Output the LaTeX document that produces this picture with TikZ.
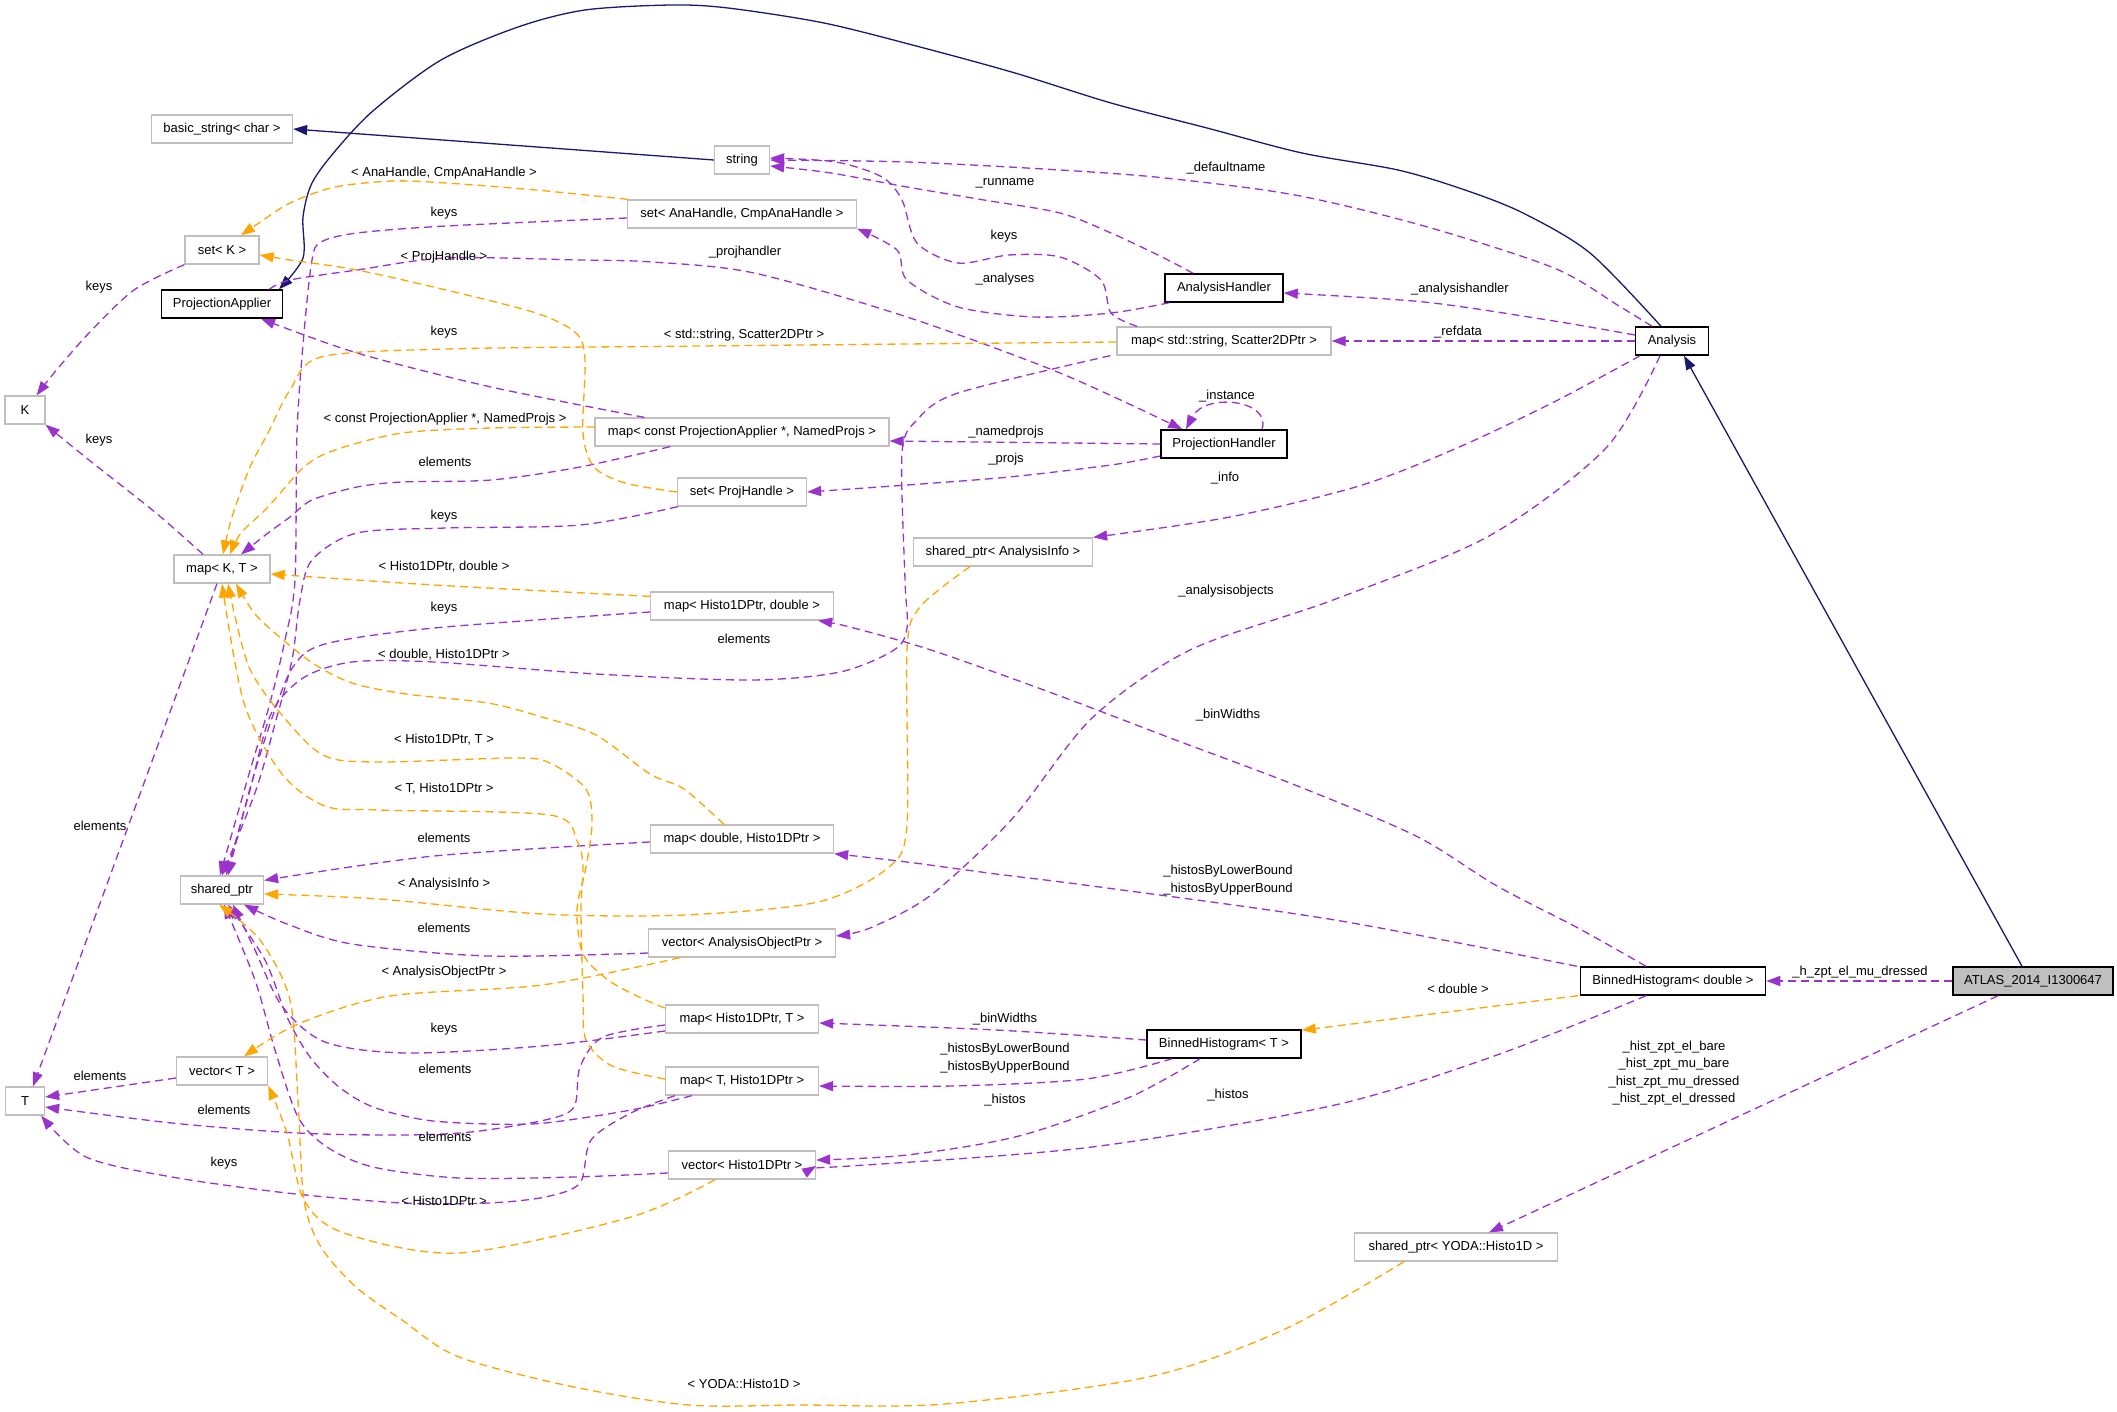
\documentclass[tikz,border=0pt]{standalone}
\usepackage{fontspec}
\setmainfont{Liberation Sans}
\usetikzlibrary{arrows.meta}
\definecolor{edgeuse}{HTML}{9A32CD}
\definecolor{edgetpl}{HTML}{FFA500}
\definecolor{edgeinh}{HTML}{191970}
\definecolor{boxgray}{HTML}{BFBFBF}
\tikzset{
	tplbox/.style={draw=boxgray, line width=1.3pt, fill=white, minimum height=28pt, inner sep=0pt, font=\fontsize{13}{15}\selectfont},
	clsbox/.style={tplbox, draw=black, line width=1.5pt},
	lbl/.style={inner sep=0pt, font=\fontsize{13}{17.5}\selectfont, align=center},
	usage/.style={edgeuse, line width=1.3pt, dash pattern=on 8pt off 5pt, -{Triangle[length=14pt,width=10pt]}},
	tpl/.style={usage, edgetpl},
	inherit/.style={edgeinh, line width=1.3pt, -{Triangle[length=14pt,width=10pt]}}
}

\begin{document}
\begin{tikzpicture}[x=1pt, y=-1pt]
			%%%%% START %%%%%
			\fill[white] (0, 0) rectangle (2117, 1411);
			\useasboundingbox (0, 0) rectangle (2117, 1411);
			
			% boxes
			\node[tplbox, minimum width=141pt] (basicstr) at (222, 129) {basic\_string< char >};
			\node[tplbox, minimum width=55pt] (strg) at (742, 160) {string};
			\node[tplbox, minimum width=229pt] (setana) at (742, 214) {set< AnaHandle, CmpAnaHandle >};
			\node[tplbox, minimum width=74pt] (setk) at (222, 250) {set< K >};
			\node[clsbox, minimum width=121pt] (projapp) at (222, 304) {ProjectionApplier};
			\node[tplbox, minimum width=40pt] (typek) at (25, 410) {K};
			\node[tplbox, minimum width=96pt] (mapkt) at (222, 569) {map< K, T >};
			\node[clsbox, minimum width=118pt] (anahand) at (1224, 288) {AnalysisHandler};
			\node[tplbox, minimum width=214pt] (mapscat) at (1224, 341) {map< std::string, Scatter2DPtr >};
			\node[clsbox, minimum width=73pt] (analysis) at (1672, 341) {Analysis};
			\node[tplbox, minimum width=294pt] (mapproj) at (742, 432) {map< const ProjectionApplier *, NamedProjs >};
			\node[clsbox, minimum width=126pt] (projhand) at (1224, 444) {ProjectionHandler};
			\node[tplbox, minimum width=129pt] (setproj) at (742, 492) {set< ProjHandle >};
			\node[tplbox, minimum width=179pt] (sptrinfo) at (1003, 552) {shared\_ptr< AnalysisInfo >};
			\node[tplbox, minimum width=183pt] (maphd) at (742, 606) {map< Histo1DPtr, double >};
			\node[tplbox, minimum width=183pt] (mapdh) at (742, 839) {map< double, Histo1DPtr >};
			\node[tplbox, minimum width=83pt] (sptr) at (222, 890) {shared\_ptr};
			\node[tplbox, minimum width=187pt] (vecaop) at (742, 943) {vector< AnalysisObjectPtr >};
			\node[clsbox, minimum width=185pt] (bhdouble) at (1673, 981) {BinnedHistogram< double >};
			\node[clsbox, fill=boxgray, minimum width=160pt] (atlas) at (2033, 981) {ATLAS\_2014\_I1300647};
			\node[tplbox, minimum width=153pt] (mapht) at (742, 1019) {map< Histo1DPtr, T >};
			\node[clsbox, minimum width=154pt] (bht) at (1224, 1044) {BinnedHistogram< T >};
			\node[tplbox, minimum width=91pt] (vect) at (222, 1071) {vector< T >};
			\node[tplbox, minimum width=39pt] (typet) at (25, 1101) {T};
			\node[tplbox, minimum width=153pt] (mapth) at (742, 1081) {map< T, Histo1DPtr >};
			\node[tplbox, minimum width=147pt] (vech) at (742, 1165) {vector< Histo1DPtr >};
			\node[tplbox, minimum width=203pt] (sptryoda) at (1456, 1247) {shared\_ptr< YODA::Histo1D >};
			
			% inheritance
			\draw[inherit] (strg.west) -- (basicstr.east);
			\draw[inherit] plot[smooth] coordinates {([xshift=-11pt]analysis.north) (1590, 253) (1523, 213) (1465, 190) (1398, 170) (1302, 153) (1207, 128) (1111, 103) (1015, 73) (920, 47) (824, 23) (728, 8) (671, 5) (585, 10) (518, 27) (441, 60) (374, 110) (336, 150) (312, 183) (303, 217) (303, 258) ([xshift=57pt]projapp.north)};
			\draw[inherit] ([xshift=-11pt]atlas.north) -- ([xshift=12pt]analysis.south);
			
			% members of Analysis and AnalysisHandler
			\draw[usage] plot[smooth] coordinates {([xshift=-20pt]analysis.north) (1619, 306) (1554, 268) (1424, 226) (1295, 195) (1165, 178) (1060, 170) (907, 162) (strg.east)};
			\node[lbl] (ldefname) at (1226, 168) {\_defaultname};
			\draw[usage] plot[smooth] coordinates {([xshift=-31pt]anahand.north) (1162, 257) (1111, 233) (1060, 213) (984, 200) (907, 187) (831, 173) ([yshift=-6pt]strg.east)};
			\node[lbl] (lrunname) at (1005, 183) {\_runname};
			\draw[usage] plot[smooth] coordinates {([xshift=-87pt]mapscat.north) (1111, 313) (1101, 280) (1060, 257) (1009, 255) (958, 263) (917, 243) (902, 200) (882, 177) (836, 162) ([yshift=2pt]strg.east)};
			\node[lbl] (lkeysstr) at (1004, 236) {keys};
			\draw[usage] plot[smooth] coordinates {([xshift=5pt]anahand.south west) (1111, 313) (1035, 317) (958, 307) (907, 280) (897, 250) (setana.south east)};
			\node[lbl] (lanalyses) at (1005, 279) {\_analyses};
			\draw[usage] plot[smooth] coordinates {([yshift=6pt]analysis.west) (1554, 321) (1424, 302) ([yshift=-5pt]anahand.east)};
			\node[lbl] (lanahand) at (1460, 289) {\_analysishandler};
			\draw[usage] (analysis.west) -- (mapscat.east);
			\node[lbl] (lrefdata) at (1458, 332) {\_refdata};
			\draw[usage] plot[smooth] coordinates {([xshift=-32pt]analysis.south) (1554, 402) (1457, 448) (1359, 486) (1230, 517) (sptrinfo.north east)};
			\node[lbl] (linfo) at (1225, 478) {\_info};
			\draw[usage] plot[smooth] coordinates {([xshift=-12pt]analysis.south) (1606, 448) (1489, 536) (1333, 600) (1190, 650) (1092, 718) (1012, 819) (931, 895) (870, 928) ([yshift=7pt]vecaop.east)};
			\node[lbl] (lanaobj) at (1226, 591) {\_analysisobjects};
			
			% ProjectionHandler
			\draw[usage] plot[smooth] coordinates {([xshift=-14pt]projapp.north east) (290, 280) (357, 270) (446, 258) (580, 260) (652, 262) (754, 273) (907, 317) (1060, 373) ([xshift=22pt]projhand.north west)};
			\node[lbl] (lprojhand) at (745, 252) {\_projhandler};
			\draw[usage] ([xshift=38pt]projhand.north) .. controls (1272, 400) and (1205, 392) .. ([xshift=-38pt]projhand.north);
			\node[lbl] (linstance) at (1227, 396) {\_instance};
			\draw[usage] (projhand.west) -- ([yshift=-9pt]mapproj.east);
			\node[lbl] (lnamedprojs) at (1006, 432) {\_namedprojs};
			\draw[usage] plot[smooth] coordinates {([yshift=-12pt]projhand.west) (1111, 465) (1009, 477) (907, 485) (setproj.east)};
			\node[lbl] (lprojs) at (1006, 459) {\_projs};
			\draw[usage] plot[smooth] coordinates {([xshift=50pt]mapproj.north west) (491, 387) (357, 353) ([xshift=39pt]projapp.south)};
			\node[lbl] (lkeyspa) at (444, 332) {keys};
			\draw[usage] plot[smooth] coordinates {([xshift=-72pt]mapproj.south) (580, 467) (491, 480) (402, 482) (357, 487) (312, 500) (290, 517) (268, 533) ([xshift=19pt]mapkt.north)};
			\node[lbl] (lelemproj) at (445, 462) {elements};
			
			% keys and elements on the left
			\draw[usage] plot[smooth] coordinates {(setk.south west) (134, 290) (89, 333) (54, 373) ([xshift=-9pt]typek.north east)};
			\node[lbl] (lkeysk1) at (99, 287) {keys};
			\draw[usage] plot[smooth] coordinates {([yshift=-4pt]setana.west) (446, 226) (357, 233) (321, 242) (312, 260) (304, 333) (297, 433) (295, 580) (285, 640) (270, 703) (249, 774) ([xshift=-2pt]sptr.north)};
			\node[lbl] (lkeysana) at (444, 213) {keys};
			\draw[usage] plot[smooth] coordinates {([xshift=1pt]setproj.south west) (580, 525) (446, 528) (357, 533) (312, 560) (300, 600) (292, 660) (276, 720) (256, 790) (sptr.north)};
			\node[lbl] (lkeysproj) at (444, 516) {keys};
			\draw[usage] plot[smooth] coordinates {([xshift=-6pt]mapscat.south west) (958, 393) (917, 420) (902, 453) (905, 580) (907, 628) (894, 650) (840, 672) (751, 680) (596, 674) (434, 662) (352, 662) (303, 678) (271, 714) (250, 790) ([xshift=4pt]sptr.north)};
			\node[lbl] (lelemscat) at (744, 639) {elements};
			\draw[usage] plot[smooth] coordinates {([yshift=-6pt]maphd.west) (434, 628) (325, 644) (293, 667) (271, 721) (249, 792) ([xshift=6pt]sptr.north)};
			\node[lbl] (lkeyshd) at (444, 608) {keys};
			\draw[usage] plot[smooth] coordinates {([yshift=-3pt]mapdh.west) (434, 856) ([yshift=-5pt]sptr.north east)};
			\node[lbl] (lelemdh) at (444, 838) {elements};
			\draw[usage] plot[smooth] coordinates {([yshift=-10pt]vecaop.west) (488, 956) (352, 944) (287, 924) ([xshift=22pt]sptr.south)};
			\node[lbl] (lelemaop) at (444, 928) {elements};
			\draw[usage] plot[smooth] coordinates {([xshift=-19pt]mapkt.north) (156, 513) (89, 460) (typek.south east)};
			\node[lbl] (lkeysk2) at (99, 440) {keys};
			\draw[usage] ([xshift=-5pt]mapkt.south) -- ([xshift=8pt]typet.north);
			\node[lbl] (lelemkt) at (100, 826) {elements};
			\draw[usage] ([yshift=-7pt]vect.west) -- ([yshift=4pt]typet.east);
			\node[lbl] (lelemvt) at (100, 1076) {elements};
			\draw[usage] plot[smooth] coordinates {([yshift=-6pt]mapht.west) (603, 1037) (580, 1067) (574, 1107) (545, 1120) (471, 1132) (402, 1135) (298, 1133) (172, 1123) ([yshift=-6pt]typet.east)};
			\node[lbl] (lelemht) at (224, 1110) {elements};
			\draw[usage] plot[smooth] coordinates {([xshift=10pt]mapth.south west) (631, 1113) (591, 1140) (580, 1183) (545, 1197) (488, 1203) (402, 1203) (287, 1193) (172, 1177) (86, 1157) ([xshift=-4pt]typet.south east)};
			\node[lbl] (lkeysth) at (224, 1163) {keys};
			\draw[usage] plot[smooth] coordinates {([yshift=-12pt]mapht.west) (542, 1046) (406, 1053) (325, 1042) (282, 1006) (255, 950) ([xshift=11pt]sptr.south)};
			\node[lbl] (lkeysht) at (444, 1029) {keys};
			\draw[usage] plot[smooth] coordinates {([xshift=27pt]mapth.south west) (631, 1110) (545, 1123) (488, 1124) (425, 1120) (373, 1107) (339, 1087) (310, 1057) (287, 1017) (265, 960) ([xshift=6pt]sptr.south)};
			\node[lbl] (lelemth) at (445, 1069) {elements};
			\draw[usage] plot[smooth] coordinates {([yshift=-8pt]vech.west) (574, 1177) (459, 1178) (373, 1167) (327, 1147) (298, 1117) (275, 1050) (255, 980) ([xshift=2pt]sptr.south)};
			\node[lbl] (lelemvh) at (445, 1137) {elements};
			
			% binned histograms
			\draw[usage] (atlas.west) -- (bhdouble.east);
			\node[lbl] (lhzpt) at (1860, 972) {\_h\_zpt\_el\_mu\_dressed};
			\draw[usage] ([xshift=-35pt]atlas.south) -- ([xshift=33pt]sptryoda.north);
			\node[lbl] (lhist) at (1674, 1073) {\_hist\_zpt\_el\_bare\\\_hist\_zpt\_mu\_bare\\\_hist\_zpt\_mu\_dressed\\\_hist\_zpt\_el\_dressed};
			\draw[usage] plot[smooth] coordinates {([xshift=-27pt]bhdouble.north) (1578, 928) (1497, 886) (1416, 836) (1295, 785) (1173, 739) (1052, 693) (931, 650) (850, 627) ([xshift=-16pt]maphd.south east)};
			\node[lbl] (lbinw1) at (1228, 715) {\_binWidths};
			\draw[usage] plot[smooth] coordinates {([xshift=-3pt]bhdouble.north west) (1335, 920) (1092, 886) (996, 874) (907, 862) (mapdh.south east)};
			\node[lbl] (lhistby1) at (1228, 880) {\_histosByLowerBound\\\_histosByUpperBound};
			\draw[usage] plot[smooth] coordinates {([xshift=-27pt]bhdouble.south) (1497, 1055) (1335, 1105) (1092, 1147) (850, 1166) ([yshift=-1pt]vech.east)};
			\node[lbl] (lhistos1) at (1228, 1095) {\_histos};
			\draw[tpl] ([xshift=-2pt]bhdouble.south west) -- ([yshift=-1pt]bht.north east);
			\node[lbl] (ldouble) at (1458, 989) {< double >};
			\draw[usage] plot[smooth] coordinates {([yshift=4pt]bht.west) (996, 1030) ([yshift=-4pt]mapht.east)};
			\node[lbl] (lbinw2) at (1005, 1019) {\_binWidths};
			\draw[usage] plot[smooth] coordinates {([xshift=26pt]bht.south west) (1086, 1079) (952, 1086) ([yshift=-5pt]mapth.east)};
			\node[lbl] (lhistby2) at (1005, 1058) {\_histosByLowerBound\\\_histosByUpperBound};
			\draw[usage] plot[smooth] coordinates {([xshift=-24pt]bht.south) (1130, 1097) (1019, 1136) (907, 1155) ([yshift=5pt]vech.east)};
			\node[lbl] (lhistos2) at (1005, 1100) {\_histos};
			
			% template instances
			\draw[tpl] plot[smooth] coordinates {([xshift=1pt]setana.north west) (536, 190) (446, 183) (393, 181) (335, 187) (290, 203) (259, 223) ([xshift=19pt]setk.north)};
			\node[lbl] (lanahandle) at (444, 173) {< AnaHandle, CmpAnaHandle >};
			\draw[tpl] plot[smooth] coordinates {(setproj.west) (625, 483) (594, 467) (583, 433) (585, 360) (576, 333) (536, 313) (446, 290) (357, 270) (290, 260) ([yshift=-5pt]setk.east)};
			\node[lbl] (lprojhandle) at (444, 257) {< ProjHandle >};
			\draw[tpl] plot[smooth] coordinates {([yshift=-1pt]mapscat.west) (700, 346) (446, 349) (321, 357) (290, 390) (268, 433) (250, 467) (232, 517) ([xshift=1pt]mapkt.north)};
			\node[lbl] (lstdstr) at (744, 335) {< std::string, Scatter2DPtr >};
			\draw[tpl] plot[smooth] coordinates {([yshift=5pt]mapproj.west) (491, 428) (402, 433) (335, 450) (304, 467) (268, 507) (241, 533) ([xshift=8pt]mapkt.north)};
			\node[lbl] (lconstpa) at (445, 419) {< const ProjectionApplier *, NamedProjs >};
			\draw[tpl] plot[smooth] coordinates {([yshift=-5pt]maphd.north west) (434, 585) ([yshift=-5pt]mapkt.east)};
			\node[lbl] (lhistodbl) at (444, 567) {< Histo1DPtr, double >};
			\draw[tpl] plot[smooth] coordinates {([xshift=-18pt]mapdh.north) (684, 789) (650, 774) (596, 735) (542, 717) (488, 703) (406, 694) (352, 683) (314, 664) (282, 639) (255, 614) ([xshift=14pt]mapkt.south)};
			\node[lbl] (ldblhisto) at (444, 655) {< double, Histo1DPtr >};
			\draw[tpl] plot[smooth] coordinates {([yshift=11pt]mapht.west) (639, 997) (608, 980) (583, 954) (577, 910) (586, 867) (592, 824) (586, 789) (550, 763) (515, 758) (379, 762) (325, 756) (287, 721) (249, 667) ([xshift=6pt]mapkt.south)};
			\node[lbl] (lhistot) at (444, 740) {< Histo1DPtr, T >};
			\draw[tpl] plot[smooth] coordinates {([yshift=2pt]mapth.west) (612, 1066) (586, 1040) (583, 997) (581, 910) (583, 867) (577, 841) (550, 815) (379, 810) (325, 806) (282, 774) (244, 703) (mapkt.south)};
			\node[lbl] (lthisto) at (444, 789) {< T, Histo1DPtr >};
			\draw[tpl] plot[smooth] coordinates {([xshift=-33pt]sptrinfo.south) (920, 607) (907, 650) (907, 824) (889, 867) (818, 902) (684, 915) (542, 914) (379, 899) ([yshift=-4pt]sptr.east)};
			\node[lbl] (lanainfo) at (444, 884) {< AnalysisInfo >};
			\draw[tpl] plot[smooth] coordinates {([xshift=-62pt]vecaop.south) (542, 985) (390, 996) (298, 1024) ([xshift=22pt]vect.north)};
			\node[lbl] (lanaobjptr) at (444, 972) {< AnalysisObjectPtr >};
			\draw[tpl] plot[smooth] coordinates {([xshift=-27pt]vech.south) (631, 1217) (459, 1253) (344, 1233) (304, 1200) (287, 1133) (vect.south east)};
			\node[lbl] (lhisto) at (444, 1201) {< Histo1DPtr >};
			\draw[tpl] plot[smooth] coordinates {([xshift=-52pt]sptryoda.south) (1283, 1330) (1148, 1377) (945, 1404) (800, 1405) (689, 1405) (574, 1387) (459, 1357) (402, 1320) (356, 1287) (321, 1247) (304, 1200) (298, 1100) (290, 1000) (260, 940) ([xshift=-3pt]sptr.south)};
			\node[lbl] (lyoda) at (744, 1384) {< YODA::Histo1D >};
			
			%%%%% END %%%%%
\end{tikzpicture}
\end{document}
